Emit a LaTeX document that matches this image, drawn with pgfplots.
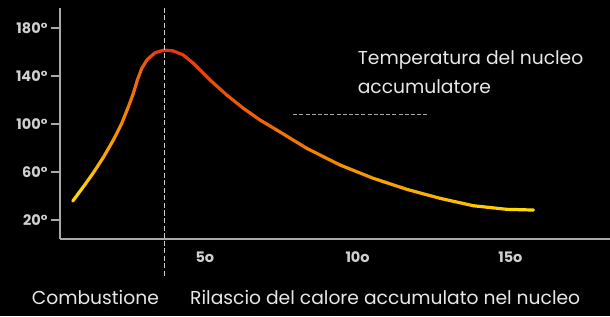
\documentclass[border=0pt]{standalone}
\usepackage{pgfplots}
\pgfplotsset{compat=1.18}
\usepackage{fontspec}
\setmainfont{Poppins}
\definecolor{axgray}{HTML}{A8A8A8}
\definecolor{lblgray}{HTML}{CFCFCF}
\definecolor{txt}{HTML}{E8E8E8}
\begin{document}
\begin{tikzpicture}
\useasboundingbox (0,0) rectangle (610pt,316pt);
\fill[black] (0,0) rectangle (610pt,316pt);
\begin{axis}[
  at={(60pt,77pt)}, anchor=south west,
  scale only axis, width=550pt, height=231pt,
  xmin=0.26, xmax=18.26, ymin=4.2, ymax=196.7,
  axis lines=left, axis line style={-, axgray, line width=2pt},
  ytick={20,60,100,140,180}, yticklabels={20°,60°,100°,140°,180°},
  xtick={5,10,15}, xticklabels={5o,10o,15o},
  tick align=outside, major tick length=9pt,
  ytick style={axgray, line width=1.5pt},
  xtick style={draw=none},
  ticklabel style={font=\fontsize{14.5}{14.5}\selectfont\bfseries, text=lblgray},
  clip=false,
  colormap={fire}{rgb255=(255,224,0) rgb255=(245,145,0) rgb255=(230,50,20)},
  point meta min=0, point meta max=1,
]
\addplot[mesh, line width=3.2pt, line cap=round, line join=round, point meta=explicit] table[meta=c] {
x y c
0.678 35.83 0
1.025 47.75 0.116
1.352 59.42 0.226
1.679 72.25 0.335
2.007 86.67 0.445
2.282 100.58 0.537
2.498 114.42 0.609
2.661 125.58 0.664
2.792 136.67 0.707
2.936 146.42 0.756
3.119 153.92 0.817
3.372 159.42 0.902
3.666 161.67 1
3.971 160.92 0.975
4.298 157.5 0.948
4.625 150.58 0.921
5.172 136.67 0.875
5.718 124.17 0.830
6.262 113.08 0.785
6.808 103.33 0.740
7.355 95.0 0.695
8.337 79.75 0.614
9.427 65.83 0.523
10.517 54.75 0.433
11.610 45.58 0.343
12.700 38.08 0.253
13.790 31.92 0.163
14.884 28.92 0.072
15.755 28.33 0
};
\coordinate (vt) at (axis cs:3.67,196.7);
\coordinate (vb) at (axis cs:3.67,4.2);
\draw[axgray, line width=1pt, dash pattern=on 4pt off 2.2pt] (axis cs:7.89,108.1) -- (axis cs:12.31,108.1);
\node[anchor=base west, inner sep=0, text=txt, font=\fontsize{18.7}{18.7}\selectfont] at (axis cs:10,149.2) {Temperatura del nucleo};
\node[anchor=base west, inner sep=0, text=txt, font=\fontsize{18.7}{18.7}\selectfont] at (axis cs:10,125.8) {accumulatore};
\end{axis}
\draw[lblgray, line width=1pt, dash pattern=on 5pt off 2.5pt] (vt) -- ([yshift=-39pt]vb);
\node[anchor=base west, inner sep=0, text=txt, font=\fontsize{18.7}{18.7}\selectfont] at (31.7pt,12pt) {Combustione};
\node[anchor=base west, inner sep=0, text=txt, font=\fontsize{18.7}{18.7}\selectfont] at (190pt,12pt) {Rilascio del calore accumulato nel nucleo};
\end{tikzpicture}
\end{document}
